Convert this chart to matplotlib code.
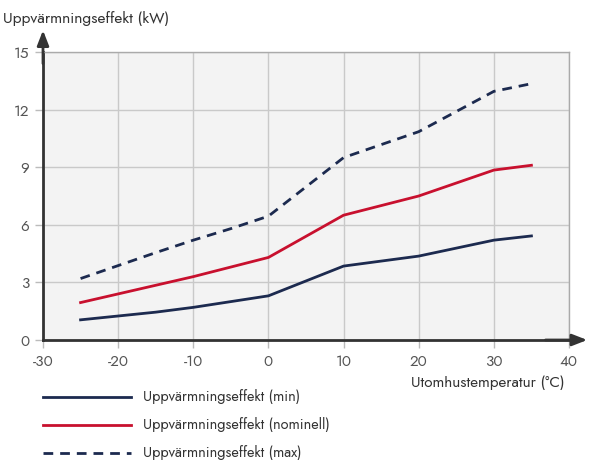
import matplotlib
matplotlib.use("Agg")
import matplotlib.pyplot as plt
from matplotlib.lines import Line2D

plt.rcParams['font.family'] = ['Jost', 'Lato', 'DejaVu Sans']

temps = [-25, -15, -10, -5, 0, 10, 20, 30, 35]
eff_min = [1.05, 1.45, 1.7, 2.0, 2.3, 3.85, 4.37, 5.2, 5.42]
eff_nom = [1.95, 2.85, 3.3, 3.8, 4.3, 6.5, 7.5, 8.85, 9.1]
eff_max = [3.2, 4.55, 5.2, 5.8, 6.45, 9.5, 10.85, 12.95, 13.35]

xticks = [-30, -20, -10, 0, 10, 20, 30, 40]
yticks = [0, 3, 6, 9, 12, 15]
labels = ["Uppvärmningseffekt (min)", "Uppvärmningseffekt (nominell)", "Uppvärmningseffekt (max)"]

navy = "#1c2a4f"
red = "#c8102e"
txt = "#333333"
tick_c = "#555555"

fig = plt.figure(figsize=(5.9, 4.62), dpi=100)
ax = fig.add_axes([43/590, 1-340/462, (569-43)/590, (340-52)/462])
ax.set_facecolor("#f3f3f3")
ax.set_xlim(-30, 40)
ax.set_ylim(0, 15)
ax.set_xticks(xticks)
ax.set_yticks(yticks)
ax.set_xticklabels([str(v) for v in xticks], color=tick_c, fontsize=11)
ax.set_yticklabels([str(v) for v in yticks], color=tick_c, fontsize=11)
ax.grid(True, color="#c9c9c9", linewidth=1.0)
ax.set_axisbelow(True)
ax.tick_params(axis='both', length=6, color="#bbbbbb", width=1, pad=4)
for s in ['top', 'right']:
    ax.spines[s].set_color("#aaaaaa")
    ax.spines[s].set_linewidth(1.0)
for s in ['left', 'bottom']:
    ax.spines[s].set_color("#333333")
    ax.spines[s].set_linewidth(2.0)

l1, = ax.plot(temps, eff_min, color=navy, lw=2)
l2, = ax.plot(temps, eff_nom, color=red, lw=2)
l3, = ax.plot(temps, eff_max, color=navy, lw=2, linestyle=(0, (3.5, 2.5)))

# arrows
ax.annotate("", xy=(0, 1.085), xytext=(0, 0.95), xycoords='axes fraction',
            arrowprops=dict(arrowstyle="-|>,head_width=0.35,head_length=0.9", color="#333333", lw=2))
ax.annotate("", xy=(1.04, 0), xytext=(0.95, 0), xycoords='axes fraction',
            arrowprops=dict(arrowstyle="-|>,head_width=0.35,head_length=0.9", color="#333333", lw=2))

fig.text(3/590, 1-18/462, "Uppvärmningseffekt (kW)", color=txt, fontsize=11.2, va='center', ha='left')
fig.text(565/590, 1-383/462, "Utomhustemperatur (°C)", color=txt, fontsize=11, va='center', ha='right')

ys = [397, 425, 453]
for y, lab, col, ls in zip(ys, labels, [navy, red, navy], ['-', '-', (0, (3.5, 2.5))]):
    fig.add_artist(Line2D([43/590, 131/590], [1-y/462, 1-y/462], color=col, lw=2, linestyle=ls))
    fig.text(143/590, 1-y/462, lab, color=txt, fontsize=10.4, va='center', ha='left')

fig.savefig("out.png", dpi=100)
